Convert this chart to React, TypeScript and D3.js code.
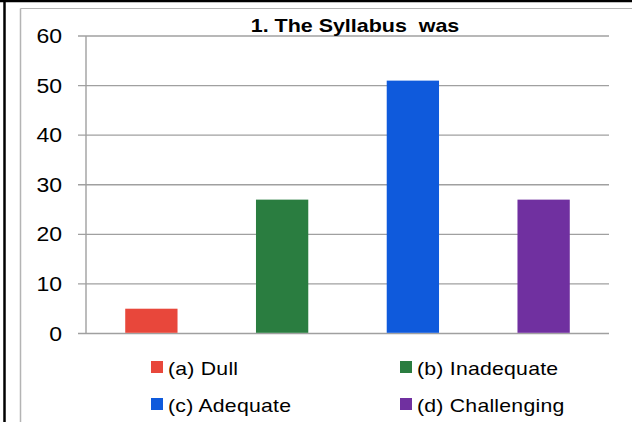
import React, { useEffect, useRef } from "react";
import * as d3 from "d3";

const categories = ["(a) Dull", "(b) Inadequate", "(c) Adequate", "(d) Challenging"];
const values = [5, 27, 51, 27];
const colors = ["#e8473b", "#2a7d40", "#0f5adc", "#7030a0"];
const yTicks = [0, 10, 20, 30, 40, 50, 60];
const title = "1. The Syllabus  was";

function SyllabusChart() {
  const ref = useRef<SVGSVGElement | null>(null);

  useEffect(() => {
    const width = 632;
    const height = 422;
    const margin = { top: 36, left: 86, bottom: 89, right: 23 };
    const font = "'Liberation Sans', Arial, sans-serif";

    const svg = d3.select(ref.current);
    svg.selectAll("*").remove();

    // outer frame (black) and chart area border (gray)
    svg.append("line").attr("x1", 0).attr("x2", width).attr("y1", 1).attr("y2", 1)
      .attr("stroke", "#000").attr("stroke-width", 2.5);
    svg.append("line").attr("x1", 4.5).attr("x2", 4.5).attr("y1", 0).attr("y2", height)
      .attr("stroke", "#000").attr("stroke-width", 2.5);
    svg.append("line").attr("x1", 20.5).attr("x2", width).attr("y1", 8.5).attr("y2", 8.5)
      .attr("stroke", "#b4b4b4").attr("stroke-width", 1);
    svg.append("line").attr("x1", 20.5).attr("x2", 20.5).attr("y1", 8.5).attr("y2", height)
      .attr("stroke", "#b4b4b4").attr("stroke-width", 1.5);

    const x = d3.scaleBand()
      .domain(categories)
      .range([margin.left, width - margin.right])
      .paddingInner(0.6)
      .paddingOuter(0.3);

    const y = d3.scaleLinear()
      .domain([0, 60])
      .range([height - margin.bottom + 0.5, margin.top]);

    // gridlines
    svg.append("g")
      .selectAll("line")
      .data(yTicks)
      .enter()
      .append("line")
      .attr("x1", margin.left - 8)
      .attr("x2", width - margin.right)
      .attr("y1", d => y(d))
      .attr("y2", d => y(d))
      .attr("stroke", "#a0a0a0")
      .attr("stroke-width", 1.4);

    // y axis line
    svg.append("line")
      .attr("x1", margin.left).attr("x2", margin.left)
      .attr("y1", y(60)).attr("y2", y(0))
      .attr("stroke", "#a0a0a0").attr("stroke-width", 1.4);

    // y tick labels (the source text is drawn a bit wide)
    svg.append("g")
      .selectAll("text")
      .data(yTicks)
      .enter()
      .append("text")
      .attr("transform", d => `translate(62, ${y(d) + 7}) scale(1.18, 1)`)
      .attr("text-anchor", "end")
      .attr("font-family", font)
      .attr("font-size", 19.5)
      .attr("fill", "#000")
      .text(d => d);

    // bars
    svg.append("g")
      .selectAll("rect")
      .data(values)
      .enter()
      .append("rect")
      .attr("x", (d, i) => x(categories[i]) as number)
      .attr("y", d => y(d))
      .attr("width", x.bandwidth())
      .attr("height", d => y(0) - y(d) - 0.7)
      .attr("fill", (d, i) => colors[i]);

    // title
    svg.append("text")
      .attr("transform", "translate(355, 31.5) scale(1.16, 1)")
      .attr("text-anchor", "middle")
      .attr("font-family", font)
      .attr("font-size", 18.5)
      .attr("font-weight", "bold")
      .attr("xml:space", "preserve")
      .style("white-space", "pre")
      .text(title);

    // legend, two columns
    const legendX = [151, 400];
    const legendY = [361, 398];
    const legend = svg.append("g")
      .selectAll("g")
      .data(categories)
      .enter()
      .append("g")
      .attr("transform", (d, i) => `translate(${legendX[i % 2]}, ${legendY[Math.floor(i / 2)]})`);

    legend.append("rect")
      .attr("width", 12)
      .attr("height", 12)
      .attr("fill", (d, i) => colors[i]);

    legend.append("text")
      .attr("transform", "translate(17, 13.8) scale(1.18, 1)")
      .attr("font-family", font)
      .attr("font-size", 18)
      .attr("letter-spacing", 0.2)
      .attr("fill", "#000")
      .text(d => d);
  }, []);

  return (
    <svg ref={ref} width={632} height={422}
      style={{ position: "absolute", left: 0, top: 0, background: "#fff" }} />
  );
}

export default function App() {
  return <SyllabusChart />;
}
